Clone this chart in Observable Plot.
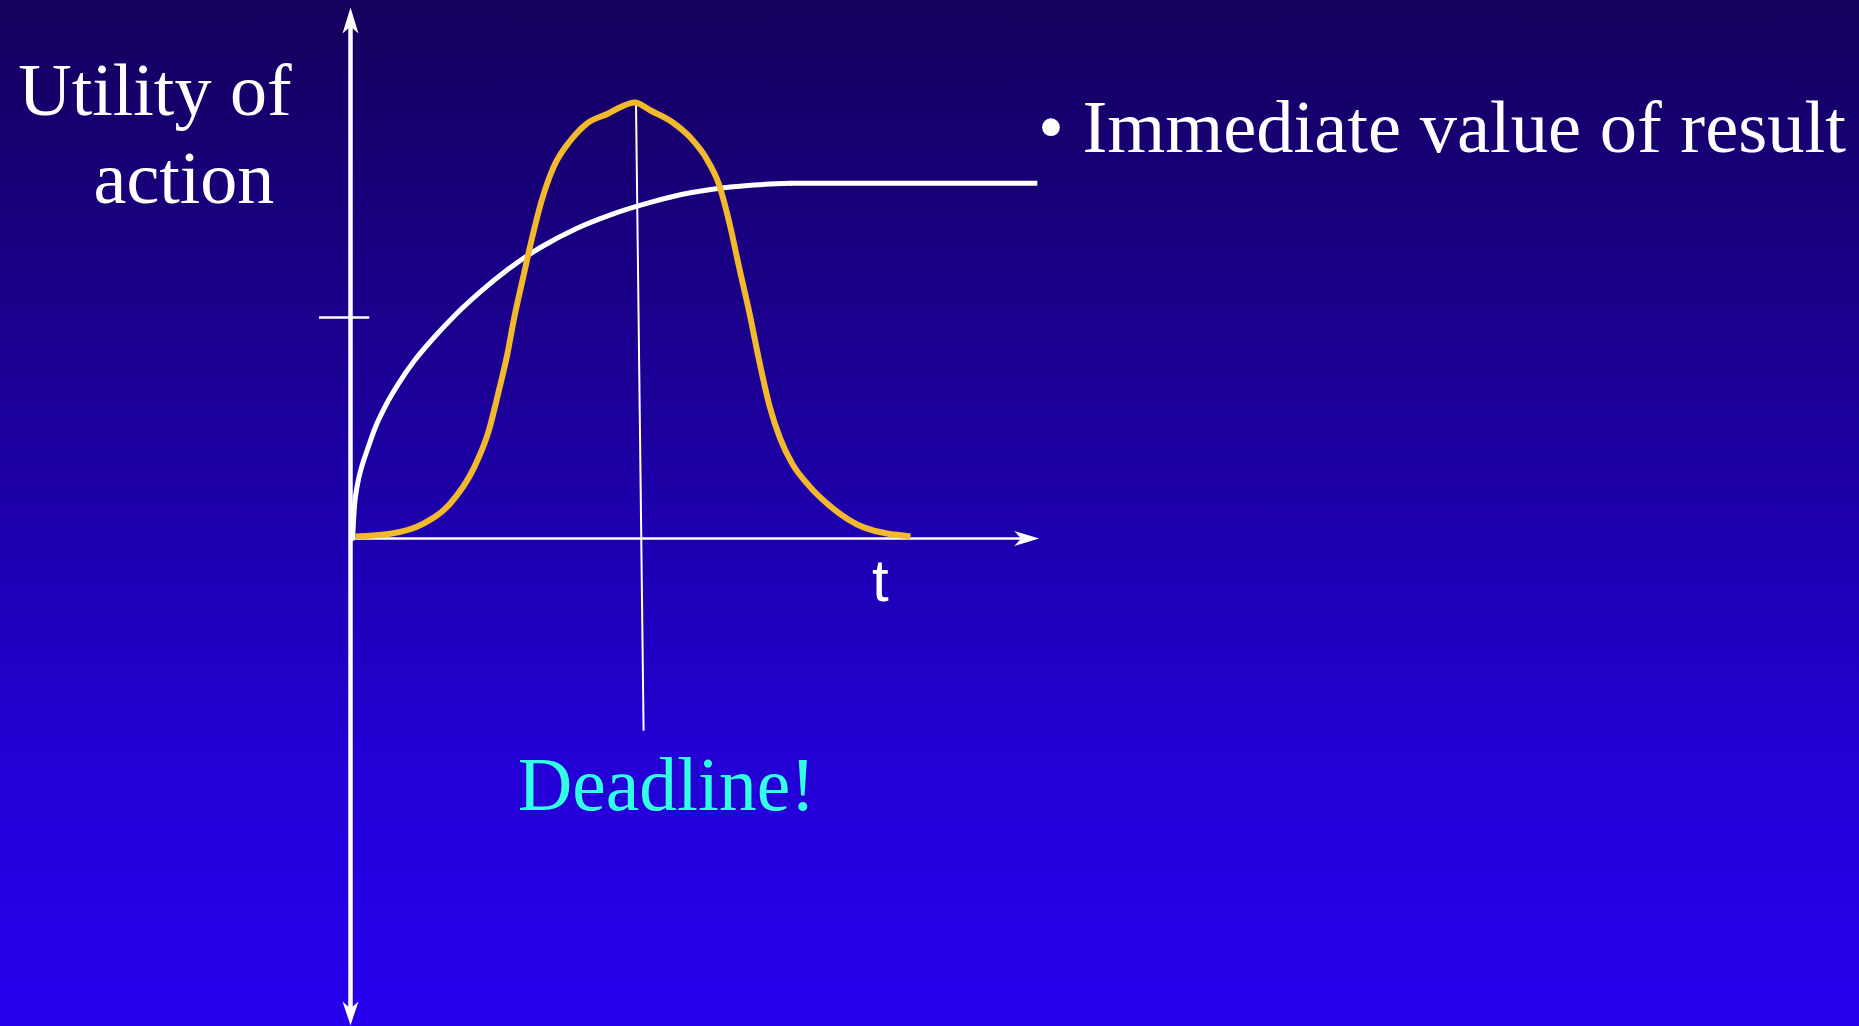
<!DOCTYPE html>
<html>
<head>
<meta charset="utf-8">
<script src="https://cdn.jsdelivr.net/npm/d3@7"></script>
<script src="https://cdn.jsdelivr.net/npm/@observablehq/plot@0.6"></script>
<style>
  html, body { margin: 0; padding: 0; background: #1e00b0; overflow: hidden; }
  #chart svg { display: block; }
  #chart svg path { shape-rendering: geometricPrecision; }
</style>
</head>
<body>
<div id="chart"></div>
<script>
// Immediate value of the result: rises quickly from zero, then levels off
const immediateTime    = [0.03, 0.06, 0.10, 0.16, 0.25, 0.36, 0.51, 0.70, 0.93, 1.21, 1.53, 1.89, 2.30, 2.76, 3.27, 3.81, 4.36, 4.94, 5.52, 6.03, 6.40];
const immediateUtility = [0.00, 0.64, 1.01, 1.34, 1.69, 2.09, 2.50, 2.92, 3.35, 3.78, 4.22, 4.65, 5.08, 5.48, 5.83, 6.11, 6.33, 6.51, 6.62, 6.67, 6.69];
const plateauUtility = 6.69;
const plateauStart = 6.40;
const plateauEnd = 9.99;

// Utility of acting around the deadline: peaks at the deadline, falls away on both sides
const deadlineTime    = [0.07, 0.58, 1.06, 1.45, 1.79, 2.01, 2.15, 2.27, 2.38, 2.51, 2.63, 2.78, 2.95, 3.20, 3.44, 3.74, 3.92, 4.13, 4.36, 4.69, 4.94, 5.19, 5.35, 5.51, 5.65, 5.80, 5.94, 6.09, 6.24, 6.42, 6.66, 6.98, 7.46, 8.14];
const deadlineUtility = [0.04, 0.09, 0.28, 0.66, 1.32, 2.03, 2.75, 3.41, 4.16, 4.92, 5.61, 6.37, 6.99, 7.50, 7.82, 8.00, 8.12, 8.21, 8.06, 7.83, 7.55, 7.12, 6.69, 5.93, 5.10, 4.24, 3.35, 2.50, 1.90, 1.41, 1.00, 0.60, 0.21, 0.04];

// Deadline marker line (from the peak down past the time axis)
const deadlineLineTime    = [4.15, 4.26];
const deadlineLineUtility = [8.17, -3.62];

// Axes
const timeAxisEnd = 10.01;
const utilityAxisTop = 10;
const utilityAxisBottom = -9.17;
const utilityTick = 4.16;
const tickSpan = [-0.45, 0.28];

// Text
const yLabelLines = ["Utility of", "action"];
const bulletText = "Immediate value of result";
const timeLabel = "t";
const deadlineLabel = "Deadline!";

// Filled "stealth" arrowheads, tip at the anchor point
const headUp = {draw(c) { c.moveTo(0, 0); c.lineTo(8, 26); c.lineTo(0, 19); c.lineTo(-8, 26); c.closePath(); }};
const headDown = {draw(c) { c.moveTo(0, 0); c.lineTo(8, -24); c.lineTo(0, -17); c.lineTo(-8, -24); c.closePath(); }};
const headRight = {draw(c) { c.moveTo(0, 0); c.lineTo(-25, 7.5); c.lineTo(-18, 0); c.lineTo(-25, -7.5); c.closePath(); }};

const serif = "'Liberation Serif', 'Times New Roman', serif";
const sans = "'Liberation Sans', Arial, sans-serif";
const textSize = 74;

const chart = Plot.plot({
  width: 1859,
  height: 1026,
  margin: 0,
  x: {domain: [0, 10], range: [350, 1038], axis: null},
  y: {domain: [0, 10], range: [538, 7], axis: null},
  style: {
    background: "linear-gradient(to bottom, #15005c 0%, #1c009a 40%, #2400d6 75%, #2800ee 100%)",
    overflow: "visible"
  },
  marks: [
    // utility axis with arrowheads at both ends
    Plot.ruleX([0], {y1: utilityAxisBottom + 0.3, y2: utilityAxisTop - 0.3, stroke: "white", strokeWidth: 4.5}),
    Plot.dot([0], {x: [0], y: [utilityAxisTop], symbol: headUp, fill: "white", stroke: "none", r: 1}),
    Plot.dot([0], {x: [0], y: [utilityAxisBottom], symbol: headDown, fill: "white", stroke: "none", r: 1}),
    // utility tick
    Plot.ruleY([utilityTick], {x1: tickSpan[0], x2: tickSpan[1], stroke: "white", strokeWidth: 2.5}),
    // time axis
    Plot.ruleY([0], {x1: 0, x2: timeAxisEnd - 0.2, stroke: "white", strokeWidth: 2.5}),
    Plot.dot([0], {x: [timeAxisEnd], y: [0], symbol: headRight, fill: "white", stroke: "none", r: 1}),
    // deadline marker
    Plot.link([0], {
      x1: [deadlineLineTime[0]], y1: [deadlineLineUtility[0]],
      x2: [deadlineLineTime[1]], y2: [deadlineLineUtility[1]],
      stroke: "white", strokeWidth: 2
    }),
    // immediate value curve and plateau
    Plot.line(immediateTime, {x: immediateTime, y: immediateUtility, curve: "monotone-x", stroke: "white", strokeWidth: 5}),
    Plot.ruleY([plateauUtility], {x1: plateauStart, x2: plateauEnd, stroke: "white", strokeWidth: 5}),
    // deadline utility curve
    Plot.line(deadlineTime, {x: deadlineTime, y: deadlineUtility, curve: "monotone-x", stroke: "#f2b92c", strokeWidth: 6, strokeLinecap: "butt"}),
    // labels
    Plot.text([yLabelLines[0]], {x: [-4.83], y: [7.97], text: d => d, textAnchor: "start", lineAnchor: "bottom", fontFamily: serif, fontSize: textSize, fill: "white"}),
    Plot.text([yLabelLines[1]], {x: [-3.735], y: [6.31], text: d => d, textAnchor: "start", lineAnchor: "bottom", fontFamily: serif, fontSize: textSize, fill: "white"}),
    Plot.text(["\u2022"], {x: [10.18], y: [7.27], text: d => d, textAnchor: "middle", lineAnchor: "bottom", fontFamily: serif, fontSize: textSize, fill: "white"}),
    Plot.text([bulletText], {x: [10.64], y: [7.27], text: d => d, textAnchor: "start", lineAnchor: "bottom", fontFamily: serif, fontSize: 74.5, fill: "white"}),
    Plot.text([timeLabel], {x: [7.70], y: [-1.17], text: d => d, textAnchor: "middle", lineAnchor: "bottom", fontFamily: sans, fontSize: 60, fill: "white"}),
    Plot.text([deadlineLabel], {x: [2.43], y: [-5.12], text: d => d, textAnchor: "start", lineAnchor: "bottom", fontFamily: serif, fontSize: 75.5, fill: "#33ffe6"})
  ]
});

document.getElementById("chart").appendChild(chart);
</script>
</body>
</html>
